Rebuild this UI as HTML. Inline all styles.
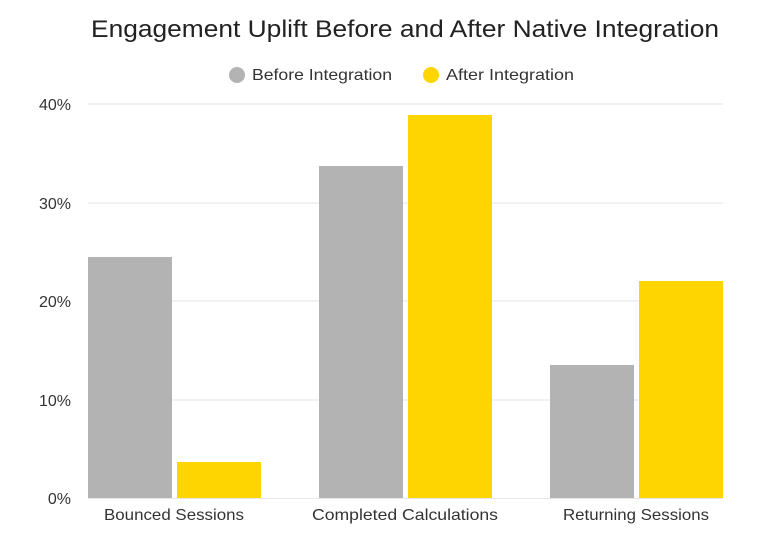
<!DOCTYPE html>
<html><head><meta charset="utf-8"><style>
body{margin:0;background:#fff;}
svg{display:block;font-family:"Liberation Sans",sans-serif;}
</style></head><body>
<svg width="768" height="544" viewBox="0 0 768 544">
<rect width="768" height="544" fill="#fff"/>
<text x="91" y="37" font-size="24" fill="#222" textLength="628" lengthAdjust="spacingAndGlyphs">Engagement Uplift Before and After Native Integration</text>
<circle cx="237" cy="75" r="8" fill="#b3b3b3"/>
<text x="252" y="80" font-size="16" fill="#333" textLength="140" lengthAdjust="spacingAndGlyphs">Before Integration</text>
<circle cx="431" cy="75" r="8" fill="#ffd500"/>
<text x="446" y="80" font-size="16" fill="#333" textLength="128" lengthAdjust="spacingAndGlyphs">After Integration</text>
<g stroke="#e6e6e6" stroke-width="1">
<line x1="88" x2="723" y1="104" y2="104"/>
<line x1="88" x2="723" y1="203" y2="203"/>
<line x1="88" x2="723" y1="301" y2="301"/>
<line x1="88" x2="723" y1="400" y2="400"/>
<line x1="88" x2="723" y1="498.5" y2="498.5"/>
</g>
<g font-size="16" fill="#333" text-anchor="end">
<text x="71" y="110">40%</text>
<text x="71" y="209">30%</text>
<text x="71" y="307">20%</text>
<text x="71" y="406">10%</text>
<text x="71" y="504">0%</text>
</g>
<rect x="88" y="257" width="84" height="241" fill="#b3b3b3"/>
<rect x="177" y="462" width="84" height="36" fill="#ffd500"/>
<rect x="319" y="166" width="84" height="332" fill="#b3b3b3"/>
<rect x="408" y="115" width="84" height="383" fill="#ffd500"/>
<rect x="550" y="365" width="84" height="133" fill="#b3b3b3"/>
<rect x="639" y="281" width="84" height="217" fill="#ffd500"/>
<g font-size="16" fill="#333">
<text x="104" y="520" textLength="140" lengthAdjust="spacingAndGlyphs">Bounced Sessions</text>
<text x="312" y="520" textLength="186" lengthAdjust="spacingAndGlyphs">Completed Calculations</text>
<text x="563" y="520" textLength="146" lengthAdjust="spacingAndGlyphs">Returning Sessions</text>
</g>
</svg>
</body></html>
